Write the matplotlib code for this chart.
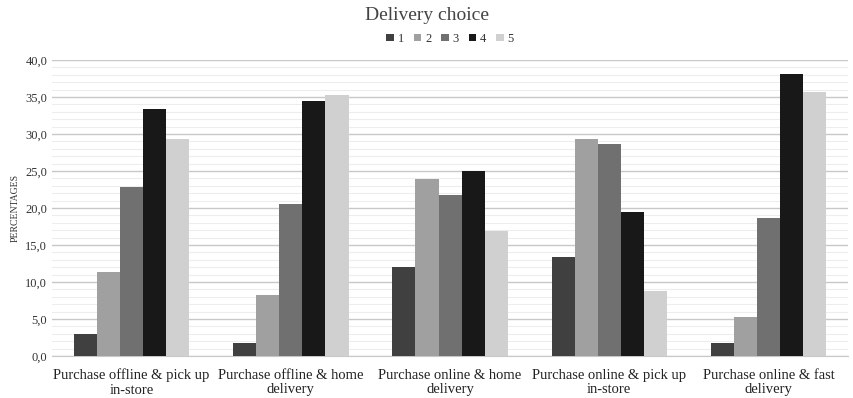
import numpy as np
import matplotlib
matplotlib.use('Agg')
import matplotlib.pyplot as plt
from matplotlib.ticker import MultipleLocator

plt.rcParams['font.family'] = ['Liberation Serif', 'DejaVu Serif']

categories = ['Purchase offline & pick up\nin-store', 'Purchase offline & home\ndelivery',
              'Purchase online & home\ndelivery', 'Purchase online & pick up\nin-store',
              'Purchase online & fast\ndelivery']
series_names = ['1', '2', '3', '4', '5']
s1 = [3.0, 1.7, 12.0, 13.4, 1.8]
s2 = [11.3, 8.2, 23.9, 29.3, 5.3]
s3 = [22.8, 20.5, 21.8, 28.7, 18.7]
s4 = [33.4, 34.5, 25.0, 19.4, 38.1]
s5 = [29.3, 35.3, 16.9, 8.8, 35.7]
colors = ['#404040', '#a0a0a0', '#707070', '#181818', '#d0d0d0']

fig = plt.figure(figsize=(8.54, 3.98), dpi=100)
ax = fig.add_axes([0.061, 0.1055, 0.932, 0.7435])

x = np.arange(len(categories))
w = 0.145
for i, (vals, c, name) in enumerate(zip([s1, s2, s3, s4, s5], colors, series_names)):
    ax.bar(x + (i - 2) * w, vals, w, color=c, label=name, zorder=3)

ax.set_xlim(-0.5, 4.5)
ax.set_ylim(0, 40)
ax.yaxis.set_major_locator(MultipleLocator(5))
ax.yaxis.set_minor_locator(MultipleLocator(1))
ax.grid(axis='y', which='major', color='#c8c8c8', linewidth=1.0, zorder=0)
ax.grid(axis='y', which='minor', color='#ededed', linewidth=0.8, zorder=0)
ax.set_yticklabels([f'{v:.1f}'.replace('.', ',') for v in ax.get_yticks()])
ax.set_xticks(x)
ax.set_xticklabels(categories, fontsize=10.5, color='#222222', linespacing=1.15)
ax.tick_params(axis='y', labelsize=9, colors='#333333', length=0, which='both')
ax.tick_params(axis='x', length=0, pad=9)
for s in ['top', 'right', 'left']:
    ax.spines[s].set_visible(False)
ax.spines['bottom'].set_color('#c8c8c8')
ax.set_ylabel('PERCENTAGES', fontsize=7, color='#333333', labelpad=4)

fig.text(0.5, 0.962, 'Delivery choice', ha='center', va='center', fontsize=14, color='#444444')
ax.legend(loc='upper center', bbox_to_anchor=(0.5, 1.13), ncol=5, frameon=False,
          fontsize=9, handlelength=0.6, handleheight=0.6, handletextpad=0.3, columnspacing=0.8,
          labelcolor='#333333')

fig.savefig('out.png', dpi=100)
